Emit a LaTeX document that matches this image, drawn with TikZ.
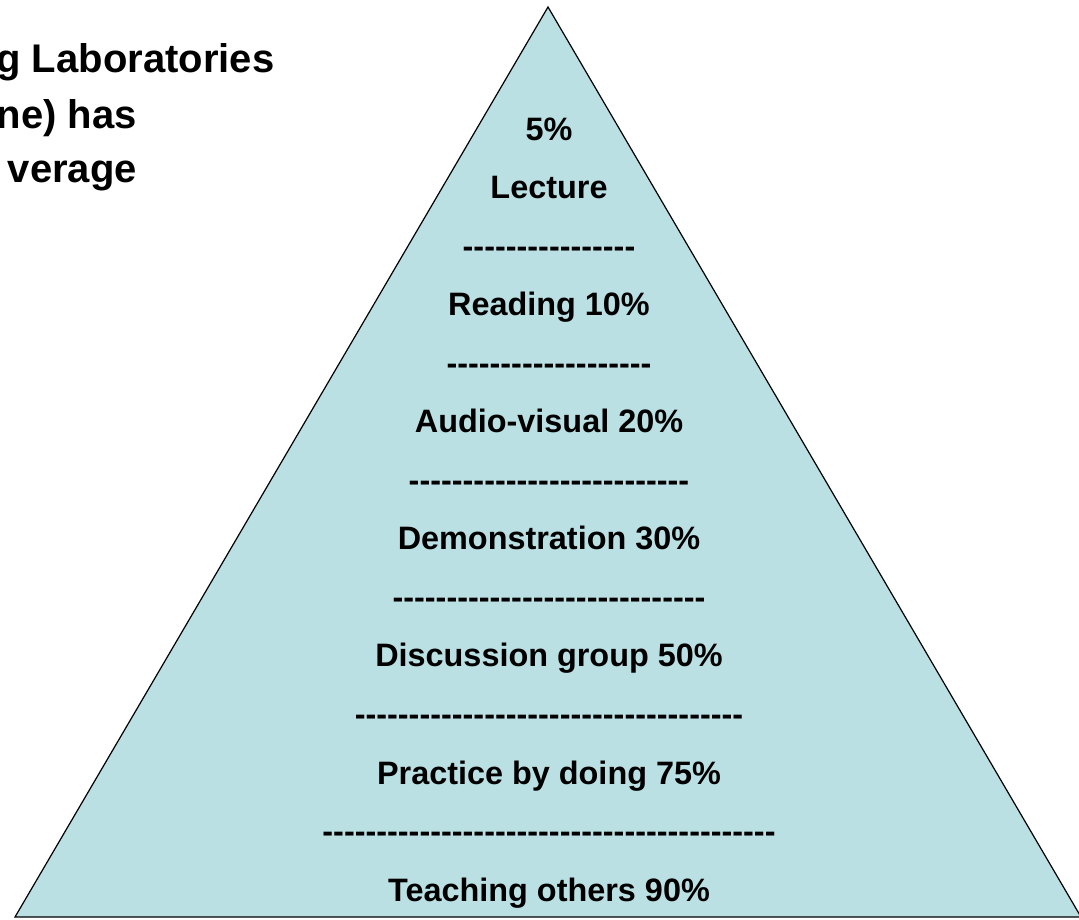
\documentclass[tikz,border=0pt]{standalone}
\usepackage{fontspec}
\setmainfont{Liberation Sans}[Ligatures=TeXOff]
\definecolor{pyramidfill}{RGB}{186,224,227}
\ExplSyntaxOn
\cs_new:Npn \dashrow #1 { \prg_replicate:nn {#1} {-} }
\ExplSyntaxOff

\begin{document}
\begin{tikzpicture}[x=1pt,y=-1pt,
  level/.style={font=\fontsize{32.4}{38}\selectfont\bfseries,anchor=base,inner sep=0pt},
  side/.style={font=\fontsize{40}{48}\selectfont\bfseries,anchor=base east,inner sep=0pt}]
  \useasboundingbox (0,0) rectangle (1079,919);
  % pyramid
  \coordinate (top) at (548,7);
  \coordinate (left) at (15,917);
  \coordinate (right) at (1081,917);
  \draw[fill=pyramidfill,line width=1.2pt] (top) -- (right) -- (left) -- cycle;
  % levels
  \node[level] (pct) at (549,140) {5\%};
  \node[level] (lecture) at (549,198.55) {Lecture};
  \node[level] (sepA) at (549,257.1) {\dashrow{16}};
  \node[level] (reading) at (549,315.65) {Reading 10\%};
  \node[level] (sepB) at (549,374.2) {\dashrow{19}};
  \node[level] (audio) at (549,432.75) {Audio-visual 20\%};
  \node[level] (sepC) at (549,491.3) {\dashrow{26}};
  \node[level] (demo) at (549,549.85) {Demonstration 30\%};
  \node[level] (sepD) at (549,608.4) {\dashrow{29}};
  \node[level] (discuss) at (549,666.95) {Discussion group 50\%};
  \node[level] (sepE) at (549,725.5) {\dashrow{36}};
  \node[level] (practice) at (549,784.05) {Practice by doing 75\%};
  \node[level] (sepF) at (549,842.6) {\dashrow{42}};
  \node[level] (teaching) at (549,901.15) {Teaching others 90\%};
  % cut-off text on the left
  \node[side] (labs) at (274.5,72) {g Laboratories};
  \node[side] (has) at (137,128) {ne) has};
  \node[side] (avg) at (137,182) {verage};
\end{tikzpicture}
\end{document}
